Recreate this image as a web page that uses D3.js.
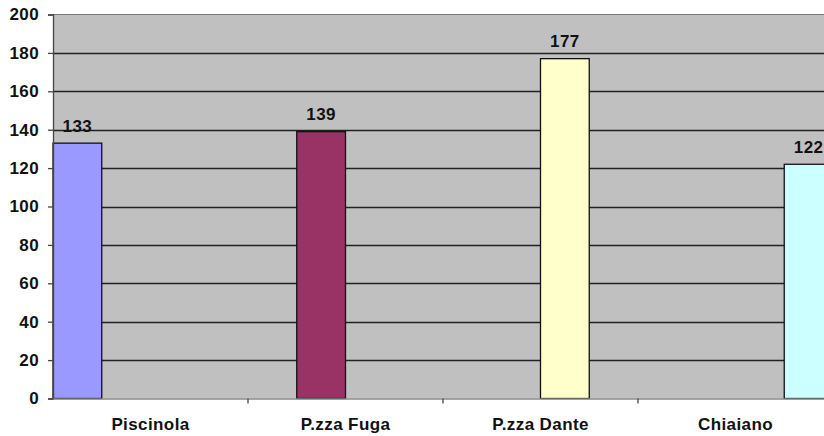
<!DOCTYPE html>
<html><head><meta charset="utf-8">
<script src="https://cdn.jsdelivr.net/npm/d3@7"></script>
<style>body{margin:0;background:#fff}svg{display:block}text{font-family:"Liberation Sans",Arial,sans-serif;font-weight:bold}</style>
</head><body>
<svg id="c" width="824" height="436"></svg>
<script>
const categories = ["Piscinola", "P.zza Fuga", "P.zza Dante", "Chiaiano"];
const values = [133, 139, 177, 122];
const colors = ["#9999FF", "#993366", "#FFFFCC", "#CCFFFF"];
const yTicks = [0, 20, 40, 60, 80, 100, 120, 140, 160, 180, 200];

(function () {
const svg = d3.select("#c");
const pL = 53, pR = 833, pT = 14.5, pB = 398.5;
const FS = 17, LS = "0.4px";
const x = d3.scaleBand().domain(categories).range([pL, pR]).padding(0);
const slot = d3.scaleBand().domain(d3.range(categories.length)).range([0, x.bandwidth()]).padding(0);
const y = d3.scaleLinear().domain([0, 200]).range([pB, pT]);

svg.append("rect").attr("x", pL).attr("y", pT).attr("width", pR - pL).attr("height", pB - pT).attr("fill", "#C0C0C0");

// gridlines
svg.append("g").selectAll("line").data(yTicks.filter(d => d > 0 && d < 200)).join("line")
  .attr("x1", pL).attr("x2", pR).attr("y1", d => Math.round(y(d)) + 0.5).attr("y2", d => Math.round(y(d)) + 0.5)
  .attr("stroke", "#222").attr("stroke-width", 1.3);
svg.append("line").attr("x1", pL).attr("x2", pR).attr("y1", pT).attr("y2", pT).attr("stroke", "#777").attr("stroke-width", 1);

// bars
svg.append("g").selectAll("rect").data(values).join("rect")
  .attr("x", (d, i) => x(categories[i]) + slot(i))
  .attr("width", slot.bandwidth())
  .attr("y", d => y(d))
  .attr("height", d => y(0) - y(d))
  .attr("fill", (d, i) => colors[i])
  .attr("stroke", "#111").attr("stroke-width", 1.3);

// value labels
svg.append("g").selectAll("text").data(values).join("text")
  .attr("x", (d, i) => x(categories[i]) + slot(i) + slot.bandwidth() / 2)
  .attr("y", d => y(d) - 11.5)
  .attr("text-anchor", "middle").attr("font-size", FS).attr("letter-spacing", LS).attr("fill", "#111")
  .text(d => d);

// y axis
const ya = svg.append("g").attr("transform", `translate(${pL},0)`)
  .call(d3.axisLeft(y).tickValues(yTicks).tickSize(5).tickPadding(9));
ya.select(".domain").attr("stroke", "#444").attr("stroke-width", 1.3);
ya.selectAll(".tick line").attr("stroke", "#444").attr("stroke-width", 1.3);
ya.selectAll(".tick text").attr("font-size", FS).attr("letter-spacing", LS).attr("fill", "#111").style("font-family", "Liberation Sans, Arial, sans-serif").style("font-weight", "bold");

// x axis
const xa = svg.append("g").attr("transform", `translate(0,${pB})`)
  .call(d3.axisBottom(x).tickSize(0).tickPadding(19));
xa.select(".domain").attr("stroke", "#888").attr("stroke-width", 1.3);
xa.selectAll(".tick text").attr("font-size", FS).attr("letter-spacing", LS).attr("fill", "#111").style("font-family", "Liberation Sans, Arial, sans-serif").style("font-weight", "bold");
svg.append("g").selectAll("line").data(categories.slice(1)).join("line")
  .attr("x1", d => x(d)).attr("x2", d => x(d)).attr("y1", pB).attr("y2", pB + 5)
  .attr("stroke", "#444").attr("stroke-width", 1.3);
})();
</script>
</body></html>
